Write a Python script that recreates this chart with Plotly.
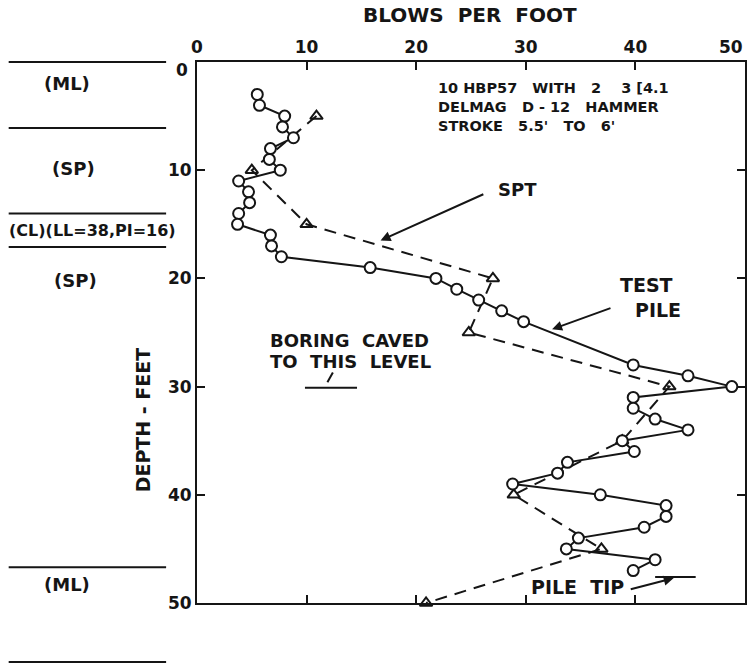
import plotly.graph_objects as go

# ---- data ----
pile_depth = [3, 4, 5, 6, 7, 8, 9, 10, 11, 12, 13, 14, 15, 16, 17, 18, 19, 20, 21, 22, 23, 24,
              28, 29, 30, 31, 32, 33, 34, 35, 36, 37, 38, 39, 40, 41, 42, 43, 44, 45, 46, 47]
pile_blows = [5.5, 5.7, 8.0, 7.8, 8.8, 6.7, 6.6, 7.6, 3.8, 4.7, 4.8, 3.8, 3.7, 6.7, 6.8, 7.7, 15.8, 21.8,
              23.7, 25.7, 27.8, 29.8, 39.8, 44.8, 48.8, 39.8, 39.8, 41.8, 44.8, 38.8, 39.9, 33.8,
              32.9, 28.8, 36.8, 42.8, 42.8, 40.8, 34.8, 33.7, 41.8, 39.8]

spt_depth = [5, 10, 15, 20, 25, 30, 35, 40, 45, 50]
spt_blows = [10.9, 5.0, 10.0, 27.0, 24.8, 43.1, 38.8, 28.9, 36.9, 20.9]

x_ticks = [0, 10, 20, 30, 40, 50]
y_ticks = [0, 10, 20, 30, 40, 50]

soil_bounds = [0, 6.1, 14, 17.1, 46.7, 55.45]
soil_labels = ["(ML)", "(SP)", "(CL)(LL=38,PI=16)", "(SP)", "(ML)"]
soil_label_depth = [2.0, 9.8, 15.55, 20.2, 48.3]
soil_label_xpx = [67, 73, 92, 75, 67]   # label centres, px from left of figure

note_lines = ["10 HBP57   WITH   2    3 [4.1", "DELMAG   D - 12   HAMMER", "STROKE   5.5'   TO   6'"]

INK = "#151515"
FONT = "DejaVu Sans"
PLOT_L, PLOT_W = 197, 550

fig = go.Figure()

fig.add_trace(go.Scatter(
    x=spt_blows, y=spt_depth, mode="lines+markers",
    line=dict(color=INK, width=2, dash="12px,8px"),
    marker=dict(symbol="triangle-up-open", size=11, color=INK, line=dict(width=2, color=INK)),
    cliponaxis=False, showlegend=False))

fig.add_trace(go.Scatter(
    x=pile_blows, y=pile_depth, mode="lines+markers",
    line=dict(color=INK, width=2),
    marker=dict(symbol="circle", size=11, color="white", line=dict(width=2, color=INK)),
    cliponaxis=False, showlegend=False))

axis_common = dict(showline=True, linecolor=INK, linewidth=2, mirror="ticks",
                   ticks="inside", ticklen=8, tickwidth=2, tickcolor=INK,
                   showgrid=False, zeroline=False,
                   tickfont=dict(family=FONT, size=17, color=INK))

fig.update_xaxes(range=[0, 50], side="top", tickvals=x_ticks,
                 ticktext=["<b>%d</b>" % v if v != 50 else "" for v in x_ticks], **axis_common)
fig.update_yaxes(range=[50, 0], tickvals=y_ticks,
                 ticktext=["<b>%d</b>" % v if v != 0 else "" for v in y_ticks], **axis_common)

# tick labels that sit in the corners
fig.add_annotation(text="<b>50</b>", xref="x", yref="paper", x=50, y=1.027, xanchor="right",
                   yanchor="middle", showarrow=False, font=dict(family=FONT, size=17, color=INK))
fig.add_annotation(text="<b>0</b>", xref="paper", yref="y", x=-0.012, y=0.75, xanchor="right",
                   yanchor="middle", showarrow=False, font=dict(family=FONT, size=17, color=INK))

def px_to_paper(px):
    return (px - PLOT_L) / PLOT_W

# soil boundary lines on the left (paper coordinates so they may fall below the axis)
for d in soil_bounds:
    yp = 1 - d / 50.0
    fig.add_shape(type="line", xref="paper", yref="paper", x0=px_to_paper(8), x1=px_to_paper(166),
                  y0=yp, y1=yp, line=dict(color=INK, width=2))

for lab, d, xpx in zip(soil_labels, soil_label_depth, soil_label_xpx):
    fig.add_annotation(text="<b>" + lab + "</b>", xref="paper", yref="y", x=px_to_paper(xpx), y=d,
                       xanchor="center", yanchor="middle", showarrow=False,
                       font=dict(family=FONT, size=16 if "CL" in lab else 18, color=INK))

# titles
fig.add_annotation(text="<b>BLOWS  PER  FOOT</b>", xref="paper", yref="paper", x=px_to_paper(471),
                   y=1 + 47 / 541, xanchor="center", yanchor="middle",
                   showarrow=False, font=dict(family=FONT, size=20, color=INK))
fig.add_annotation(text="<b>DEPTH - FEET</b>", xref="paper", yref="y", x=px_to_paper(143), y=33.1,
                   xanchor="center", yanchor="middle",
                   textangle=-90, showarrow=False, font=dict(family=FONT, size=19, color=INK))

# hammer note
fig.add_annotation(text="<br>".join("<b>" + t + "</b>" for t in note_lines),
                   x=21.8, y=4.2, xanchor="left", yanchor="middle", align="left",
                   showarrow=False, font=dict(family=FONT, size=14.5, color=INK))

# SPT arrow and label
fig.add_annotation(text=" ", x=16.75, y=16.5, ax=26.4, ay=12.1, axref="x", ayref="y",
                   showarrow=True, arrowhead=2, arrowsize=1, arrowwidth=2, arrowcolor=INK)
fig.add_annotation(text="<b>SPT</b>", x=29.2, y=11.8, showarrow=False,
                   font=dict(family=FONT, size=18, color=INK))

# TEST PILE arrow and label
fig.add_annotation(text=" ", x=32.4, y=24.7, ax=38.0, ay=22.65, axref="x", ayref="y",
                   showarrow=True, arrowhead=2, arrowsize=1, arrowwidth=2, arrowcolor=INK)
fig.add_annotation(text="<b>TEST</b>", x=41.0, y=20.6, showarrow=False,
                   font=dict(family=FONT, size=19, color=INK))
fig.add_annotation(text="<b>PILE</b>", x=42.1, y=22.9, showarrow=False,
                   font=dict(family=FONT, size=19, color=INK))

# boring caved
fig.add_annotation(text="<b>BORING  CAVED</b>", x=6.45, y=25.7, xanchor="left", yanchor="middle",
                   showarrow=False, font=dict(family=FONT, size=18, color=INK))
fig.add_annotation(text="<b>TO  THIS  LEVEL</b>", x=6.45, y=27.7, xanchor="left", yanchor="middle",
                   showarrow=False, font=dict(family=FONT, size=18, color=INK))
fig.add_shape(type="line", x0=9.85, x1=14.6, y0=30.1, y1=30.1, line=dict(color=INK, width=2))
fig.add_shape(type="line", x0=11.9, x1=12.4, y0=29.6, y1=28.7, line=dict(color=INK, width=2))

# pile tip
fig.add_annotation(text="<b>PILE  TIP</b>", x=34.7, y=48.5, showarrow=False,
                   font=dict(family=FONT, size=19, color=INK))
fig.add_annotation(text=" ", x=43.5, y=47.7, ax=39.3, ay=48.8, axref="x", ayref="y",
                   showarrow=True, arrowhead=2, arrowsize=1, arrowwidth=2, arrowcolor=INK)
fig.add_shape(type="line", x0=41.8, x1=45.5, y0=47.6, y1=47.6, line=dict(color=INK, width=2))

fig.update_layout(width=749, height=665, margin=dict(l=197, r=2, t=62, b=62),
                  plot_bgcolor="white", paper_bgcolor="white", showlegend=False)

fig.write_html("out.html")
